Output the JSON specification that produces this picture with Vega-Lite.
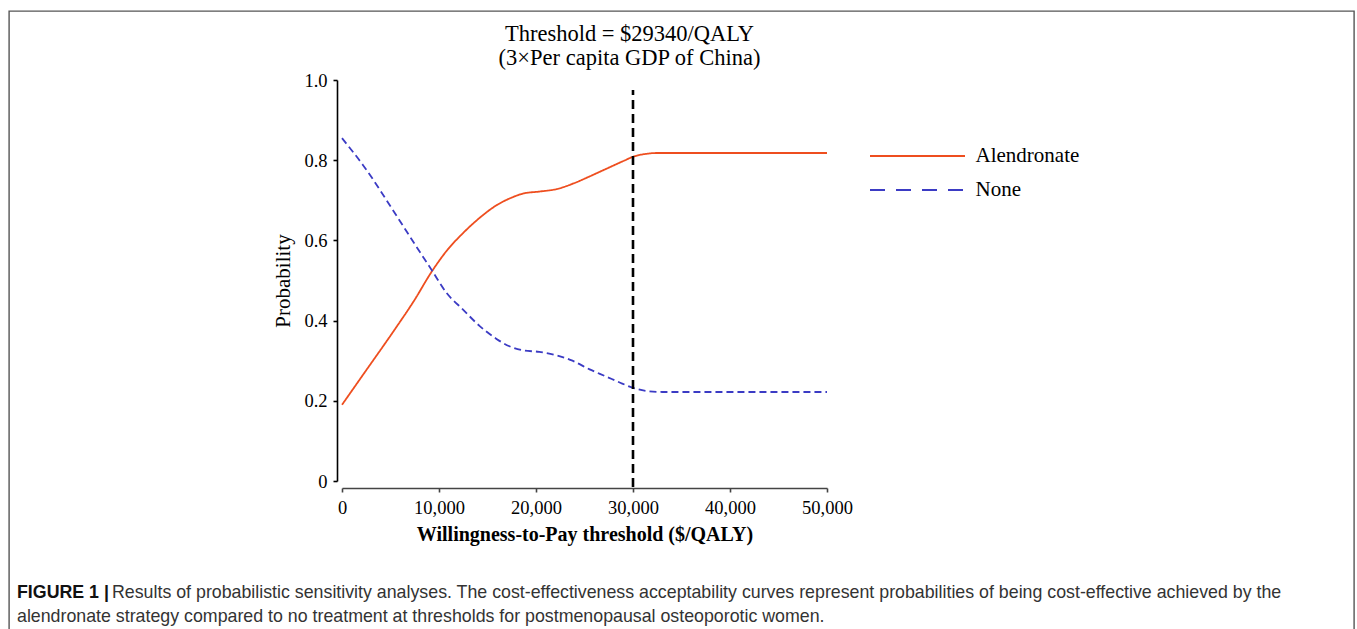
{
  "$schema": "https://vega.github.io/schema/vega-lite/v6.json",
  "width": 1345,
  "height": 625,
  "autosize": {"type": "none"},
  "padding": {"left": 9, "top": 11, "right": 3, "bottom": 0},
  "background": "white",
  "config": {
    "view": {"stroke": "#555555", "strokeWidth": 1.4},
    "font": "Liberation Serif",
    "axis": {"grid": false, "labelFont": "Liberation Serif", "titleFont": "Liberation Serif", "labelColor": "#000", "titleColor": "#000", "labelFontSize": 18.5, "domainWidth": 1.6, "tickWidth": 1.6, "tickSize": 4, "labelFlush": false},
    "legend": {"labelFont": "Liberation Serif", "labelColor": "#000"}
  },
  "title": {
    "text": ["Threshold = $29340/QALY", "(3×Per capita GDP of China)"],
    "font": "Liberation Serif",
    "fontSize": 22.5,
    "fontWeight": "normal",
    "color": "#000",
    "lineHeight": 24,
    "anchor": "middle",
    "frame": "group",
    "offset": -58,
    "dx": -52
  },
  "layer": [
    {
      "data": {"values": [
        {"wtp": 0, "prob": 0.19, "strategy": "Alendronate"},
        {"wtp": 2200, "prob": 0.266, "strategy": "Alendronate"},
        {"wtp": 5640, "prob": 0.385, "strategy": "Alendronate"},
        {"wtp": 7360, "prob": 0.447, "strategy": "Alendronate"},
        {"wtp": 9300, "prob": 0.524, "strategy": "Alendronate"},
        {"wtp": 10790, "prob": 0.574, "strategy": "Alendronate"},
        {"wtp": 12510, "prob": 0.619, "strategy": "Alendronate"},
        {"wtp": 14230, "prob": 0.657, "strategy": "Alendronate"},
        {"wtp": 15950, "prob": 0.688, "strategy": "Alendronate"},
        {"wtp": 17330, "prob": 0.705, "strategy": "Alendronate"},
        {"wtp": 18700, "prob": 0.717, "strategy": "Alendronate"},
        {"wtp": 20420, "prob": 0.722, "strategy": "Alendronate"},
        {"wtp": 22140, "prob": 0.728, "strategy": "Alendronate"},
        {"wtp": 23860, "prob": 0.742, "strategy": "Alendronate"},
        {"wtp": 25570, "prob": 0.76, "strategy": "Alendronate"},
        {"wtp": 27290, "prob": 0.779, "strategy": "Alendronate"},
        {"wtp": 29010, "prob": 0.798, "strategy": "Alendronate"},
        {"wtp": 30050, "prob": 0.809, "strategy": "Alendronate"},
        {"wtp": 31420, "prob": 0.816, "strategy": "Alendronate"},
        {"wtp": 32450, "prob": 0.818, "strategy": "Alendronate"},
        {"wtp": 40000, "prob": 0.818, "strategy": "Alendronate"},
        {"wtp": 50000, "prob": 0.818, "strategy": "Alendronate"},
        {"wtp": 0, "prob": 0.855, "strategy": "None"},
        {"wtp": 2190, "prob": 0.787, "strategy": "None"},
        {"wtp": 5610, "prob": 0.662, "strategy": "None"},
        {"wtp": 7330, "prob": 0.597, "strategy": "None"},
        {"wtp": 9300, "prob": 0.524, "strategy": "None"},
        {"wtp": 10750, "prob": 0.47, "strategy": "None"},
        {"wtp": 12450, "prob": 0.428, "strategy": "None"},
        {"wtp": 14170, "prob": 0.387, "strategy": "None"},
        {"wtp": 15890, "prob": 0.355, "strategy": "None"},
        {"wtp": 17260, "prob": 0.336, "strategy": "None"},
        {"wtp": 18620, "prob": 0.326, "strategy": "None"},
        {"wtp": 20330, "prob": 0.322, "strategy": "None"},
        {"wtp": 22050, "prob": 0.314, "strategy": "None"},
        {"wtp": 23760, "prob": 0.3, "strategy": "None"},
        {"wtp": 25470, "prob": 0.279, "strategy": "None"},
        {"wtp": 27190, "prob": 0.261, "strategy": "None"},
        {"wtp": 28890, "prob": 0.243, "strategy": "None"},
        {"wtp": 29920, "prob": 0.233, "strategy": "None"},
        {"wtp": 31290, "prob": 0.225, "strategy": "None"},
        {"wtp": 33010, "prob": 0.222, "strategy": "None"},
        {"wtp": 40000, "prob": 0.222, "strategy": "None"},
        {"wtp": 50000, "prob": 0.222, "strategy": "None"}
      ]},
      "mark": {"type": "line", "interpolate": "monotone", "strokeWidth": 1.8, "clip": false},
      "encoding": {
        "x": {"field": "wtp", "type": "quantitative",
              "scale": {"domain": [0, 50000], "range": [333, 818], "nice": false, "zero": false},
              "axis": {"values": [0, 10000, 20000, 30000, 40000, 50000], "format": ",d", "offset": -148,
                       "domainColor": "#444", "tickColor": "#444", "labelPadding": 6,
                       "title": "Willingness-to-Pay threshold ($/QALY)", "titleFontSize": 20, "titleFontWeight": "bold", "titlePadding": 8}},
        "y": {"field": "prob", "type": "quantitative",
              "scale": {"domain": [0, 1], "range": [470, 69], "nice": false, "zero": false},
              "axis": {"values": [0, 0.2, 0.4, 0.6, 0.8, 1.0], "labelExpr": "datum.value == 0 ? '0' : format(datum.value, '.1f')",
                       "offset": -328, "domainColor": "#000", "tickColor": "#000", "labelPadding": 6,
                       "title": "Probability", "titleFontSize": 21, "titleFontWeight": "normal", "titlePadding": 10}},
        "color": {"field": "strategy", "type": "nominal",
                  "scale": {"domain": ["Alendronate", "None"], "range": ["#EE4E1F", "#3B3BC4"]},
                  "legend": {"title": null, "orient": "none", "legendX": 895.5, "legendY": 132,
                             "symbolType": "M-4,0H4", "symbolSize": 564, "symbolStrokeWidth": 1.8,
                             "labelFontSize": 21, "labelOffset": 45, "rowPadding": 11,
                             "encode": {"symbols": {"update": {"strokeDash": {"signal": "datum.value === 'None' ? [15, 11] : [1, 0]"}}}}}},
        "strokeDash": {"condition": {"test": "datum.strategy === 'None'", "value": [7, 4]}, "value": [1, 0]}
      }
    },
    {
      "data": {"values": [{"threshold": 30000}]},
      "mark": {"type": "rule", "color": "#000", "strokeWidth": 2.6, "strokeDash": [9, 5], "clip": false},
      "encoding": {
        "x": {"field": "threshold", "type": "quantitative"},
        "y": {"datum": -0.015},
        "y2": {"datum": 0.975}
      }
    },
    {
      "data": {"values": [{"text": "FIGURE 1 |"}]},
      "mark": {"type": "text", "font": "Liberation Sans", "fontSize": 17.8, "fontWeight": "bold", "color": "#111", "align": "left", "baseline": "alphabetic", "clip": false},
      "encoding": {"text": {"field": "text"}, "x": {"datum": -33505}, "y": {"datum": -0.2925}}
    },
    {
      "data": {"values": [{"text": "Results of probabilistic sensitivity analyses. The cost-effectiveness acceptability curves represent probabilities of being cost-effective achieved by the"}]},
      "mark": {"type": "text", "font": "Liberation Sans", "fontSize": 17.8, "color": "#333", "align": "left", "baseline": "alphabetic", "dx": 95, "clip": false},
      "encoding": {"text": {"field": "text"}, "x": {"datum": -33505}, "y": {"datum": -0.2925}}
    },
    {
      "data": {"values": [{"text": "alendronate strategy compared to no treatment at thresholds for postmenopausal osteoporotic women."}]},
      "mark": {"type": "text", "font": "Liberation Sans", "fontSize": 17.8, "color": "#333", "align": "left", "baseline": "alphabetic", "clip": false},
      "encoding": {"text": {"field": "text"}, "x": {"datum": -33505}, "y": {"datum": -0.351}}
    }
  ]
}
